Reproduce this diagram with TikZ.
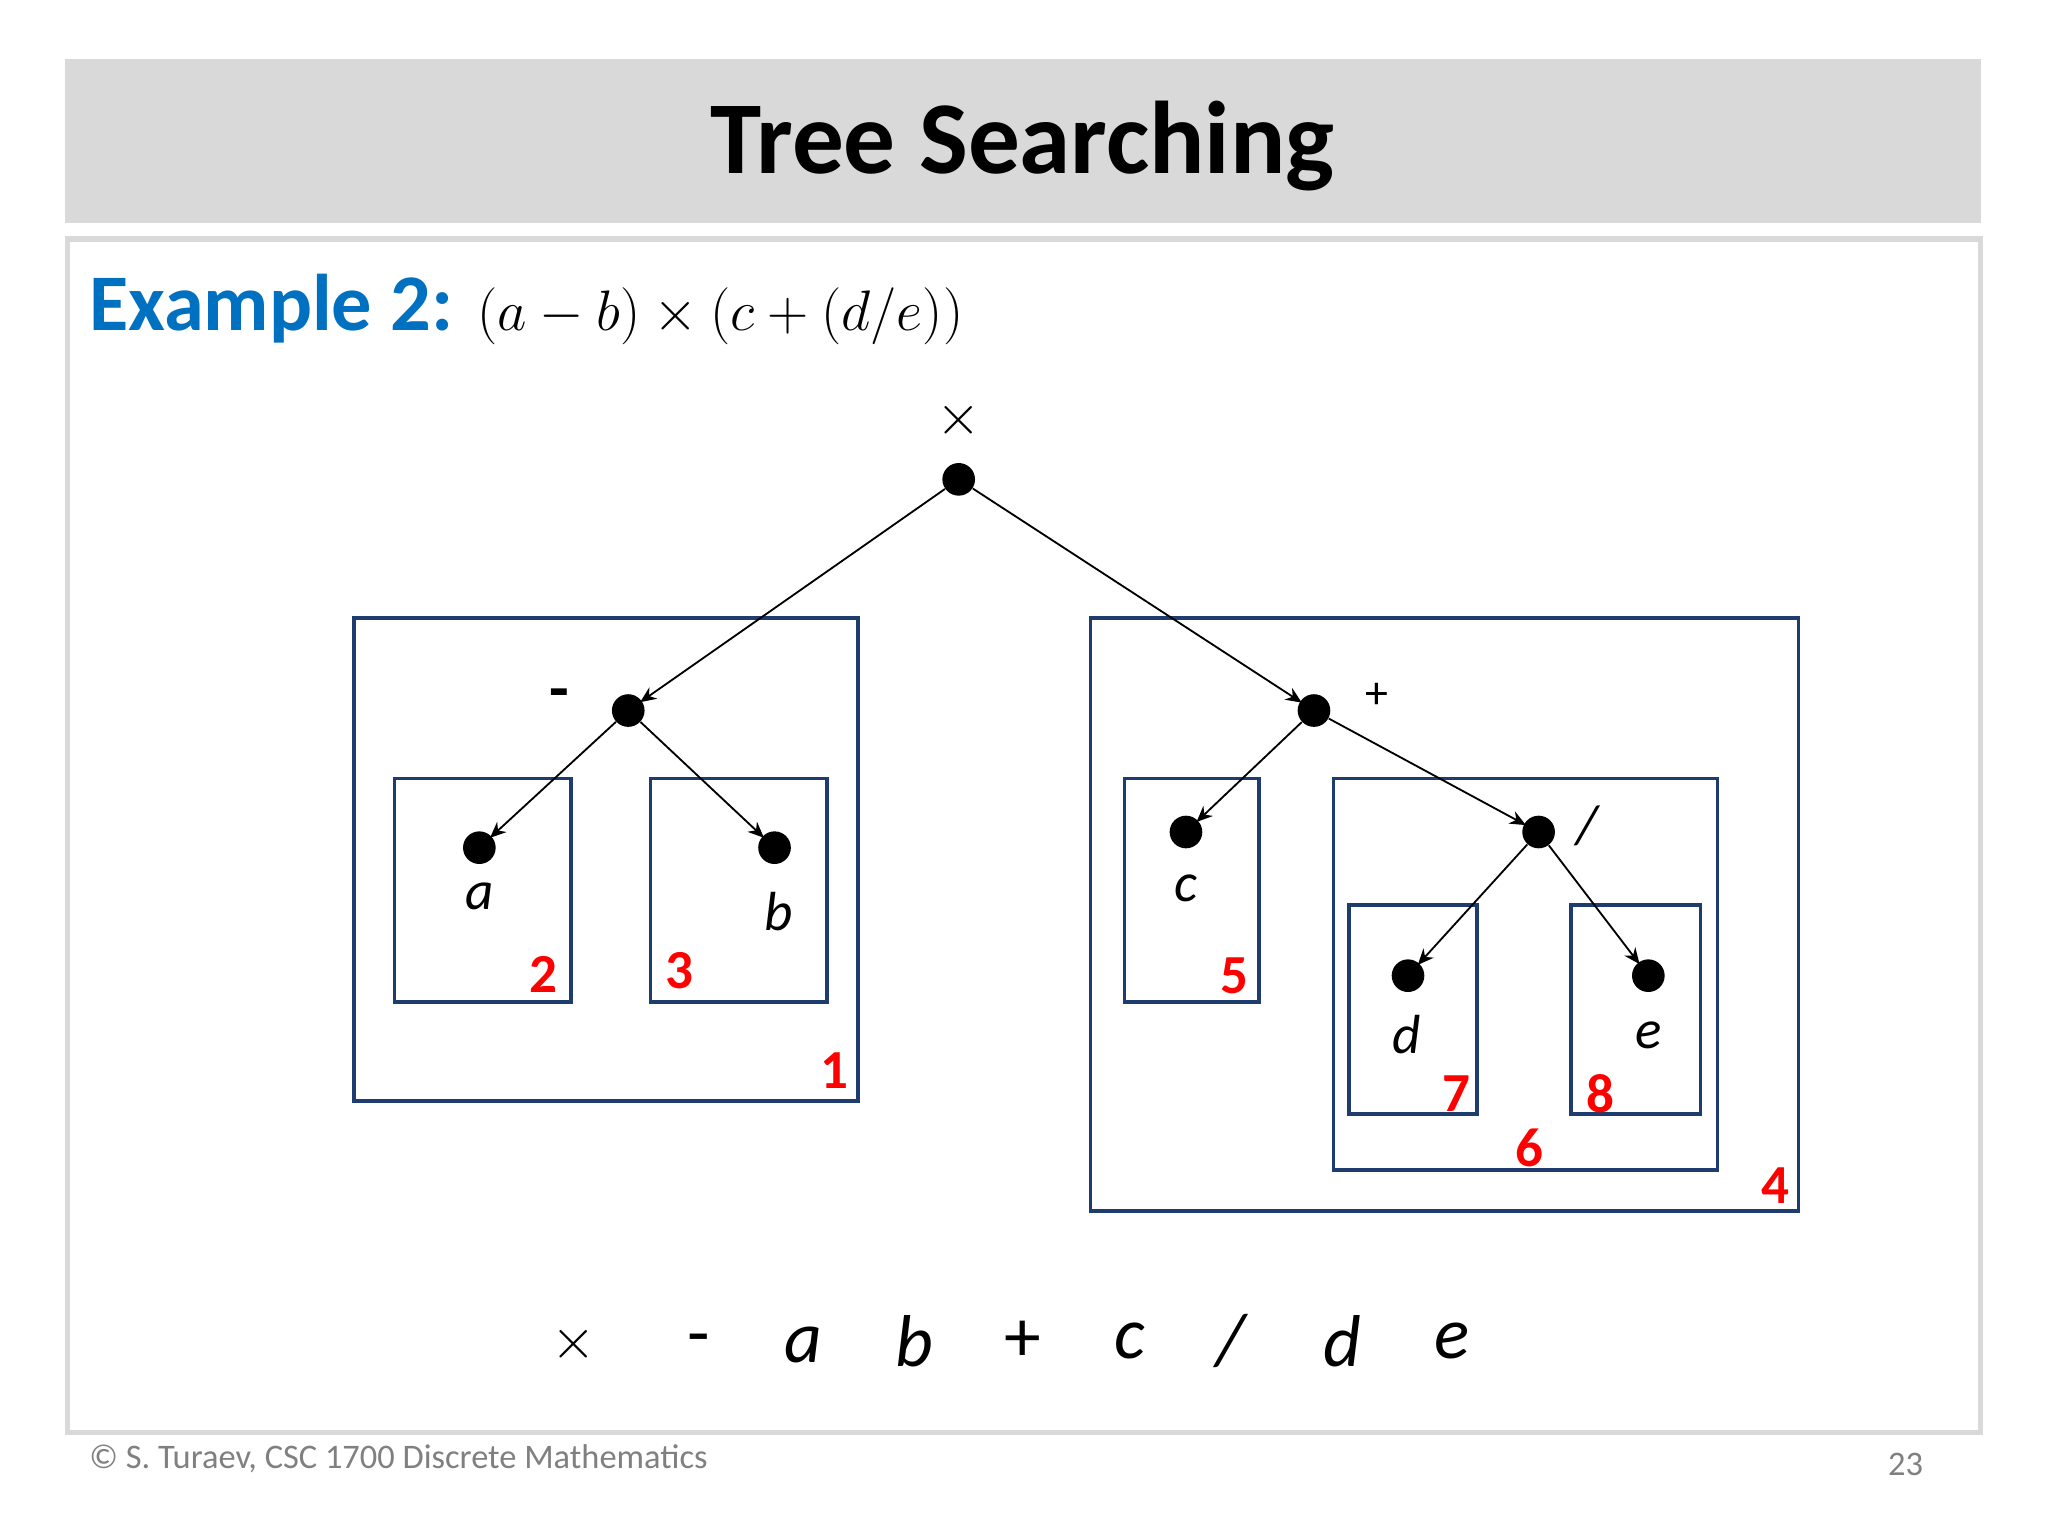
\documentclass[tikz,border=0pt]{standalone}
\usepackage{fontspec}
\setmainfont{Carlito}
\usetikzlibrary{arrows.meta}
\definecolor{hdr}{HTML}{D9D9D9}
\definecolor{navy}{HTML}{1F3C6E}
\definecolor{exblue}{HTML}{0070C0}
\newcommand{\fs}[1]{\fontsize{#1}{#1}\selectfont}
\begin{document}
\begin{tikzpicture}[x=0.02cm,y=-0.02cm,
  dot/.style={circle,fill=black,inner sep=0pt,minimum size=0.5cm},
  edge/.style={-{Stealth[length=7pt,width=6pt]},line width=0.8pt,shorten >=-1pt},
  bx/.style={draw=navy,line width=1.6pt},
  num/.style={text=red,font=\fs{24}\bfseries,inner sep=0pt},
  lab/.style={font=\fs{24}\itshape,inner sep=0pt},
  seq/.style={font=\fs{32},inner sep=0pt}]
\useasboundingbox (0,0) rectangle (1568,1176);
\fill[white] (0,0) rectangle (1568,1176);
\fill[hdr] (50,45) rectangle (1517,171);
\node[font=\fs{45}\bfseries] (title) at (783,112) {Tree Searching};
\draw[hdr,line width=2.2pt] (52,183) rectangle (1516,1097);
\node[anchor=west,inner sep=0pt] (ex) at (68,237) {\fs{35}\textcolor{exblue}{\bfseries Example 2:} \fs{48}$(a-b)\times\bigl(c+(d/e)\bigr)$};
% boxes
\draw[bx] (271,473) rectangle (657,843);
\draw[bx] (302,596) rectangle (437,767);
\draw[bx] (498,596) rectangle (633,767);
\draw[bx] (835,473) rectangle (1377,927);
\draw[bx] (861,596) rectangle (964,767);
\draw[bx] (1021,596) rectangle (1315,896);
\draw[bx] (1033,693) rectangle (1131,853);
\draw[bx] (1203,693) rectangle (1302,853);
% nodes
\node[dot] (r) at (734,367) {};
\node[dot] (m) at (481,544) {};
\node[dot] (a) at (367,649) {};
\node[dot] (b) at (593,649) {};
\node[dot] (p) at (1006,544) {};
\node[dot] (c) at (908,637) {};
\node[dot] (s) at (1178,637) {};
\node[dot] (d) at (1078,747) {};
\node[dot] (e) at (1262,747) {};
\draw[edge] (r) -- (m);
\draw[edge] (r) -- (p);
\draw[edge] (m) -- (a);
\draw[edge] (m) -- (b);
\draw[edge] (p) -- (c);
\draw[edge] (p) -- (s);
\draw[edge] (s) -- (d);
\draw[edge] (s) -- (e);
% labels
\node[font=\fs{26}] (lr) at (734,322) {$\times$};
\node[font=\fs{28}\bfseries] (lm) at (428,536) {-};
\node[lab] (la) at (367,686) {a};
\node[lab] (lb) at (596,698) {b};
\node[font=\fs{20}] (lp) at (1054,533) {+};
\node[lab] (lc) at (908,680) {c};
\node[lab] (ls) at (1215,632) {/};
\node[lab] (ld) at (1077,792) {d};
\node[lab] (le) at (1262,793) {e};
% numbers
\node[num] (n1) at (639,820) {1};
\node[num] (n2) at (416,746) {2};
\node[num] (n3) at (520,743) {3};
\node[num] (n4) at (1359,908) {4};
\node[num] (n5) at (945,747) {5};
\node[num] (n6) at (1171,879) {6};
\node[num] (n7) at (1115,837) {7};
\node[num] (n8) at (1225,837) {8};
% sequence
\node[seq,font=\fs{44}] (q1) at (439,1029) {$\times$};
\node[seq] (q2) at (535,1030) {-};
\node[seq,font=\fs{32}\itshape] (q3) at (615,1030) {a};
\node[seq,font=\fs{32}\itshape] (q4) at (700,1027) {b};
\node[seq] (q5) at (783,1027) {+};
\node[seq,font=\fs{32}\itshape] (q6) at (865,1027) {c};
\node[seq,font=\fs{32}\itshape] (q7) at (942,1027) {/};
\node[seq,font=\fs{32}\itshape] (q8) at (1028,1027) {d};
\node[seq,font=\fs{32}\itshape] (q9) at (1112,1027) {e};
% footer
\node[anchor=west,text=gray,font=\fs{15},inner sep=0pt] (ft) at (68,1117) {© S. Turaev, CSC 1700 Discrete Mathematics};
\node[text=gray,font=\fs{15},inner sep=0pt] (pg) at (1459,1121) {23};
\end{tikzpicture}
\end{document}
